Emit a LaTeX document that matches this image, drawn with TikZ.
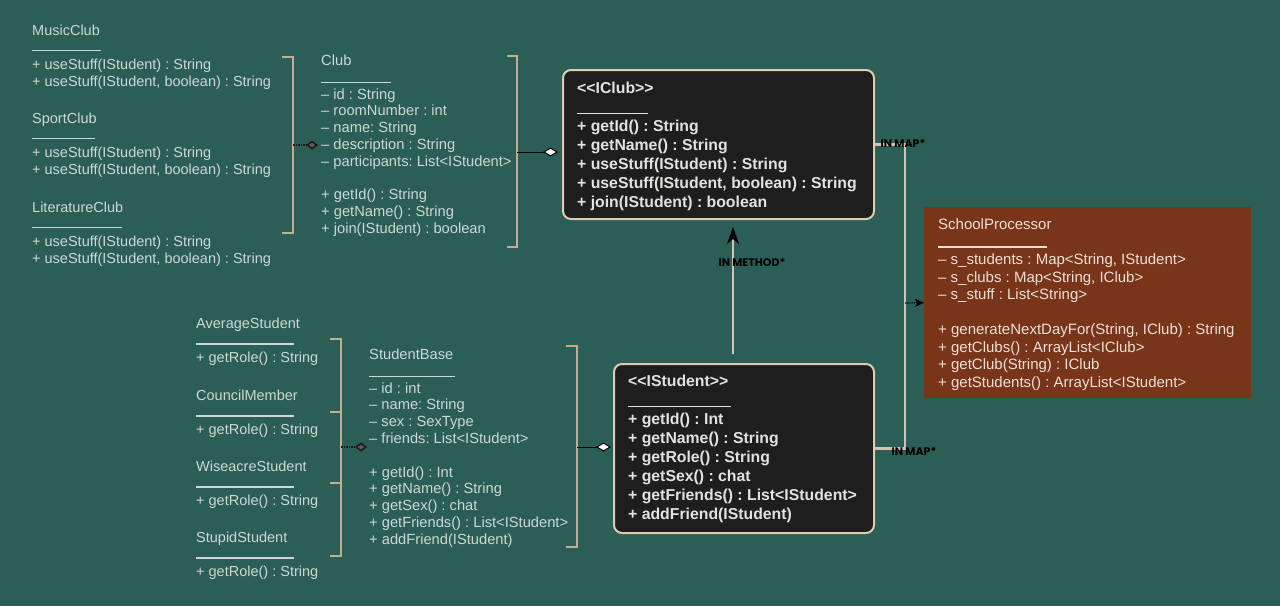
\documentclass[tikz,border=0pt]{standalone}
\usepackage{fontspec}
\setmainfont{Liberation Sans}
\newfontfamily\tagfont{Poppins}
\usetikzlibrary{arrows.meta}
\frenchspacing
\definecolor{schteal}{RGB}{43,94,87}
\definecolor{schtext}{RGB}{204,216,211}
\definecolor{schbracket}{RGB}{196,172,146}
\definecolor{schdark}{RGB}{30,30,31}
\definecolor{schedge}{RGB}{222,204,176}
\definecolor{schdarktext}{RGB}{228,226,222}
\definecolor{schrust}{RGB}{121,53,25}
\definecolor{schrusttext}{RGB}{238,224,214}
\definecolor{schmap}{RGB}{206,196,176}
\definecolor{schdiamond}{RGB}{88,92,90}
\newcommand{\sepline}[2][-1pt]{\rule[#1]{#2}{1.3pt}}
\tikzset{
  schclass/.style={
    anchor=north west,
    inner sep=0pt,
    align=left,
    text=schtext,
    font=\fontsize{14.7}{16.8}\selectfont
  },
  schleft/.style={schclass, font=\fontsize{14.5}{17}\selectfont},
  schbox/.style={anchor=north west, draw=schedge, fill=schdark, line width=2pt, rounded corners=8pt, inner sep=0pt},
  schboxtext/.style={schclass, text=schdarktext, font=\bfseries\fontsize{15.8}{19}\selectfont},
  schproc/.style={anchor=north west, fill=schrust, inner sep=0pt},
  schproctext/.style={schclass, text=schrusttext, font=\fontsize{15}{17.5}\selectfont},
  schbrack/.style={draw=schbracket, line width=2pt},
  schaggdark/.style={densely dotted, line width=1.5pt, draw=black!90, -{Diamond[length=12pt,width=9pt,fill=schdiamond]}},
  schaggwhite/.style={line width=1pt, draw=black, -{Diamond[length=15pt,width=9pt,fill=white]}},
  schmapline/.style={line width=2.2pt, draw=schmap},
  schmethod/.style={line width=1.2pt, draw=schmap, -{Stealth[length=17pt,width=12pt,inset=5pt,fill=black,color=black]}},
  schcall/.style={densely dotted, line width=1.2pt, draw=black, -{Stealth[length=9pt,width=8pt,inset=2.5pt]}},
  schtag/.style={inner sep=0pt, text=black, font=\tagfont\bfseries\fontsize{11}{12}\selectfont}
}
\begin{document}
\begin{tikzpicture}[x=1pt, y=-1pt]
\fill[schteal] (0,0) rectangle (1280,606);
\useasboundingbox (0,0) rectangle (1280,606);
% club family
\node[schleft] (musicclub) at (32,23.1) {\strut MusicClub\\\sepline[1pt]{69pt}\\+ useStuff(IStudent) : String\\+ useStuff(IStudent, boolean) : String};
\node[schleft] (sportclub) at (32,111.1) {\strut SportClub\\\sepline[1pt]{63pt}\\+ useStuff(IStudent) : String\\+ useStuff(IStudent, boolean) : String};
\node[schleft] (literatureclub) at (32,200.1) {\strut LiteratureClub\\\sepline[1pt]{90pt}\\+ useStuff(IStudent) : String\\+ useStuff(IStudent, boolean) : String};
\draw[schbrack] (282,57) -| (293,233) -- (282,233);
\coordinate (clubsjoin) at (293,145);
\node[schclass] (club) at (321,53.6) {\strut Club\\\sepline{70pt}\\– id : String\\– roomNumber : int\\– name: String\\– description : String\\– participants: List<IStudent>\\[\baselineskip]+ getId() : String\\+ getName() : String\\+ join(IStudent) : boolean};
\draw[schbrack] (507,56) -| (517,247) -- (507,247);
\coordinate (clubjoin) at (517,152);
% student family
\node[schleft] (averagestudent) at (196,316.1) {\strut AverageStudent\\\sepline[0.5pt]{98pt}\\+ getRole() : String};
\node[schleft] (councilmember) at (196,388.1) {\strut CouncilMember\\\sepline[0.5pt]{98pt}\\+ getRole() : String};
\node[schleft] (wiseacrestudent) at (196,459.1) {\strut WiseacreStudent\\\sepline[0.5pt]{98pt}\\+ getRole() : String};
\node[schleft] (stupidstudent) at (196,530.1) {\strut StupidStudent\\\sepline[0.5pt]{98pt}\\+ getRole() : String};
\draw[schbrack] (330,339) -| (341,556) -- (330,556);
\draw[schbrack] (330,412) -- (341,412);
\draw[schbrack] (330,483) -- (341,483);
\coordinate (studentsjoin) at (341,447);
\node[schclass] (studentbase) at (369,347.6) {\strut StudentBase\\\sepline{86pt}\\– id : int\\– name: String\\– sex : SexType\\– friends: List<IStudent>\\[\baselineskip]+ getId() : Int\\+ getName() : String\\+ getSex() : chat\\+ getFriends() : List<IStudent>\\+ addFriend(IStudent)};
\draw[schbrack] (566,346) -| (577,547) -- (566,547);
\coordinate (basejoin) at (577,447);
% interfaces
\node[schbox, minimum width=311pt, minimum height=149pt] (iclub) at (562,69) {};
\node[schboxtext] (iclubtext) at (577,80.4) {\strut <{}<IClub>{}>\\\sepline{71pt}\\+ getId() : String\\+ getName() : String\\+ useStuff(IStudent) : String\\+ useStuff(IStudent, boolean) : String\\+ join(IStudent) : boolean};
\node[schbox, minimum width=260pt, minimum height=169pt] (istudent) at (613,363) {};
\node[schboxtext] (istudenttext) at (628,373.4) {\strut <{}<IStudent>{}>\\\sepline{103pt}\\+ getId() : Int\\+ getName() : String\\+ getRole() : String\\+ getSex() : chat\\+ getFriends() : List<IStudent>\\+ addFriend(IStudent)};
% processor
\node[schproc, minimum width=327pt, minimum height=191pt] (school) at (924,207) {};
\node[schproctext] (schooltext) at (938,217.15) {\strut SchoolProcessor\\\sepline[-0.6pt]{109pt}\\– s\_students : Map<String, IStudent>\\– s\_clubs : Map<String, IClub>\\– s\_stuff : List<String>\\[\baselineskip]+ generateNextDayFor(String, IClub) : String\\+ getClubs() : ArrayList<IClub>\\+ getClub(String) : IClub\\+ getStudents() : ArrayList<IStudent>};
% connectors
\draw[schaggdark, shorten >=3pt] (clubsjoin) -- (clubsjoin -| club.west);
\draw[schaggwhite, shorten >=4pt] (clubjoin) -- (clubjoin -| iclub.west);
\draw[schaggdark, shorten >=2pt] (studentsjoin) -- (studentsjoin -| studentbase.west);
\draw[schaggwhite, shorten >=2pt] (basejoin) -- (basejoin -| istudent.west);
\coordinate (mapjoin) at (905,303);
\draw[schmapline] (iclub.east) -| (mapjoin) |- (istudent.east);
\draw[schcall] (mapjoin) -- (school.west);
\coordinate (methodx) at (733,300);
\draw[schmethod, shorten <=9pt, shorten >=7pt] (methodx |- istudent.north) -- (methodx |- iclub.south);
\node[schtag] (maptop) at (903,143) {IN MAP*};
\node[schtag] (mapbottom) at (914,451) {IN MAP*};
\node[schtag] (methodtag) at (752,262) {IN METHOD*};
\end{tikzpicture}
\end{document}
